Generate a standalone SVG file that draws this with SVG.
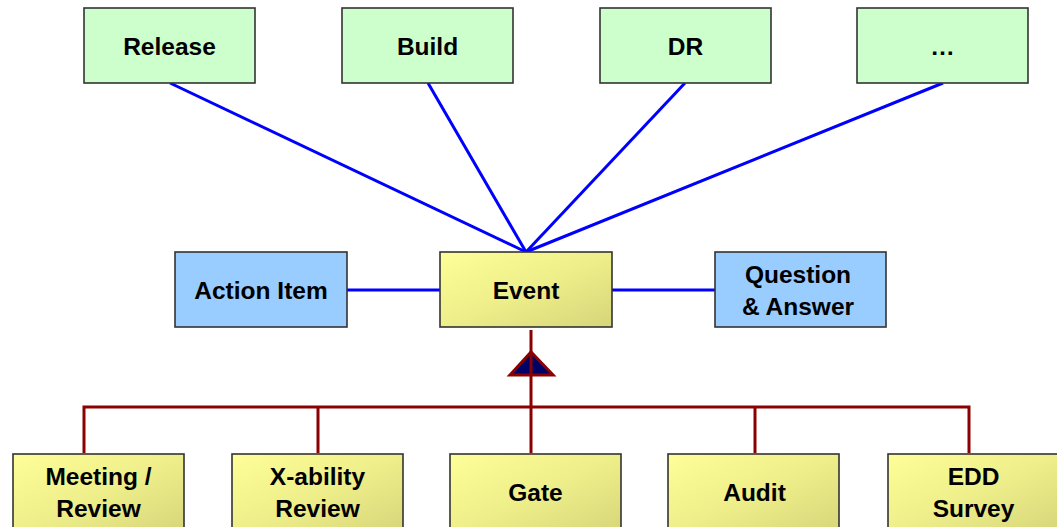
<svg xmlns="http://www.w3.org/2000/svg" width="1057" height="527" viewBox="0 0 1057 527">
  <style>
    .box { stroke: #333333; stroke-width: 1.6; }
    .green { fill: #ccffcc; }
    .blue { fill: #99ccff; }
    .yellow { fill: url(#yel); }
    .lbl { font-family: "Liberation Sans", Arial, sans-serif; font-weight: bold; font-size: 24.5px; fill: #000; text-anchor: middle; }
    .assoc { stroke: #0000ff; stroke-width: 3; fill: none; }
    .inh { stroke: #8b0000; stroke-width: 3; fill: none; }
  </style>
  <defs>
    <linearGradient id="yel" x1="0" y1="0" x2="1" y2="1">
      <stop offset="0" stop-color="#ffff99"/>
      <stop offset="0.5" stop-color="#eeee8a"/>
      <stop offset="1" stop-color="#d6d67a"/>
    </linearGradient>
  </defs>

  <rect width="1057" height="527" fill="#ffffff"/>

  <!-- connectors -->
  <g id="connectors">
    <line class="assoc" x1="170" y1="83" x2="526" y2="252"/>
    <line class="assoc" x1="428" y1="83" x2="526" y2="252"/>
    <line class="assoc" x1="685" y1="83" x2="526" y2="252"/>
    <line class="assoc" x1="943" y1="83" x2="526" y2="252"/>
    <line class="assoc" x1="347" y1="290" x2="440" y2="290"/>
    <line class="assoc" x1="612" y1="290" x2="715" y2="290"/>
    <path class="inh" d="M84,453 V407 H969 V453 M318,407 V453 M531,330 V453 M755,407 V453"/>
    <polygon points="531,352 510,375 553,375" fill="#000066" stroke="#8b0000" stroke-width="3" stroke-linejoin="miter"/>
    <line class="inh" x1="531" y1="352" x2="531" y2="376"/>
  </g>

  <g id="release">
    <rect class="box green" x="84" y="8" width="171" height="75"/>
    <text class="lbl" x="169.5" y="55">Release</text>
  </g>
  <g id="build">
    <rect class="box green" x="342" y="8" width="171" height="75"/>
    <text class="lbl" x="427.5" y="55">Build</text>
  </g>
  <g id="dr">
    <rect class="box green" x="600" y="8" width="171" height="75"/>
    <text class="lbl" x="685.5" y="55">DR</text>
  </g>
  <g id="more">
    <rect class="box green" x="857" y="8" width="171" height="75"/>
    <text class="lbl" x="942.5" y="55">…</text>
  </g>

  <g id="action-item">
    <rect class="box blue" x="175" y="252" width="172" height="75"/>
    <text class="lbl" x="261" y="299">Action Item</text>
  </g>
  <g id="event">
    <rect class="box yellow" x="440" y="252" width="172" height="75"/>
    <text class="lbl" x="526" y="299">Event</text>
  </g>
  <g id="question-answer">
    <rect class="box blue" x="715" y="252" width="171" height="75"/>
    <text class="lbl" x="798" y="283">Question</text>
    <text class="lbl" x="798" y="315">&amp; Answer</text>
  </g>

  <g id="meeting-review">
    <rect class="box yellow" x="13" y="454" width="171" height="80"/>
    <text class="lbl" x="98.5" y="485">Meeting /</text>
    <text class="lbl" x="98.5" y="517">Review</text>
  </g>
  <g id="xability-review">
    <rect class="box yellow" x="232" y="454" width="171" height="80"/>
    <text class="lbl" x="317.5" y="485">X-ability</text>
    <text class="lbl" x="317.5" y="517">Review</text>
  </g>
  <g id="gate">
    <rect class="box yellow" x="450" y="454" width="171" height="80"/>
    <text class="lbl" x="535.5" y="501">Gate</text>
  </g>
  <g id="audit">
    <rect class="box yellow" x="668" y="454" width="171" height="80"/>
    <text class="lbl" x="754.5" y="501">Audit</text>
  </g>
  <g id="edd-survey">
    <rect class="box yellow" x="888" y="454" width="171" height="80"/>
    <text class="lbl" x="973.5" y="485">EDD</text>
    <text class="lbl" x="973.5" y="517">Survey</text>
  </g>
</svg>
